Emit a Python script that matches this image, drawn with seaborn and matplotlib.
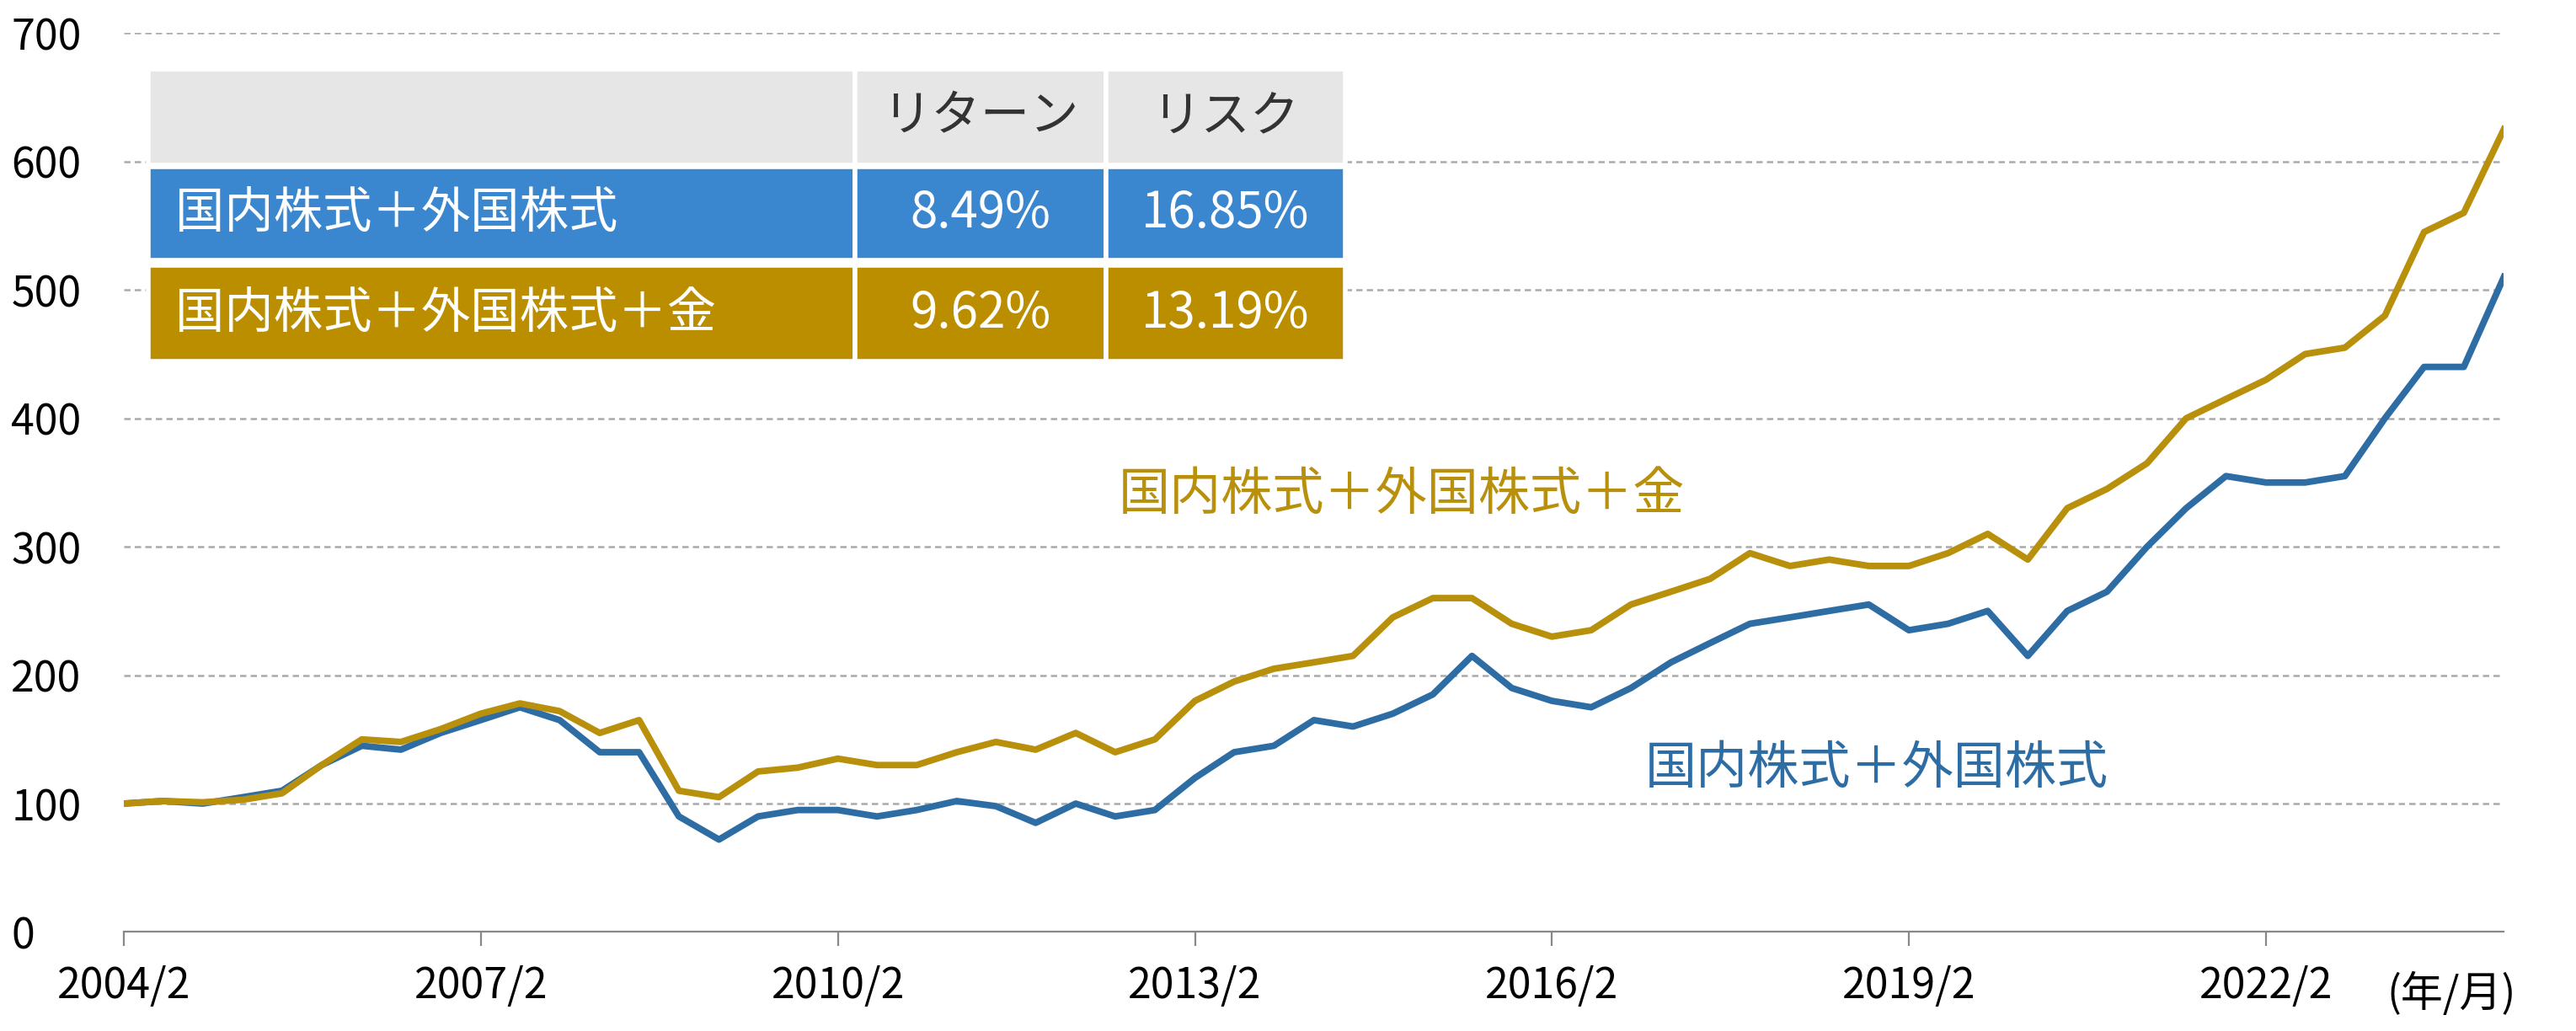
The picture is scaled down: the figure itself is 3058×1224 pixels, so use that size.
import matplotlib
matplotlib.use("Agg")
import matplotlib.pyplot as plt
import seaborn as sns
import pandas as pd
from matplotlib.patches import Rectangle

plt.rcParams["font.family"] = "Noto Sans CJK JP"

dates = pd.date_range("2004-02-01", "2024-02-01", freq="4MS")
blue_vals = [100,102,100,105,110,130,145,142,155,165,175,165,140,140,90,72,90,95,95,90,
             95,102,98,85,100,90,95,120,140,145,165,160,170,185,215,190,180,175,190,210,
             225,240,245,250,255,235,240,250,215,250,265,300,330,355,350,350,355,400,440,440,510]
gold_vals = [100,102,101,103,108,130,150,148,158,170,178,172,155,165,110,105,125,128,135,130,
             130,140,148,142,155,140,150,180,195,205,210,215,245,260,260,240,230,235,255,265,
             275,295,285,290,285,285,295,310,290,330,345,365,400,415,430,450,455,480,545,560,625]
tick_labels = ["2004/2","2007/2","2010/2","2013/2","2016/2","2019/2","2022/2"]
yticks = [0,100,200,300,400,500,600,700]
name_blue = "国内株式＋外国株式"
name_gold = "国内株式＋外国株式＋金"
table_cols = ["リターン", "リスク"]
table_blue = ["8.49%", "16.85%"]
table_gold = ["9.62%", "13.19%"]

BLUE = "#2e6da4"; GOLD = "#b8900c"
df = pd.DataFrame({"date": list(dates)*2, "value": blue_vals+gold_vals,
                   "series": [name_blue]*len(dates)+[name_gold]*len(dates)})

fig = plt.figure(figsize=(15.29, 6.12), dpi=200)
ax = fig.add_axes([0.048, 0.096, 0.924, 0.872])
sns.lineplot(data=df, x="date", y="value", hue="series",
             palette={name_blue: BLUE, name_gold: GOLD}, linewidth=2.8, ax=ax, legend=False)
ax.set_ylim(0, 700)
ax.set_xlim(pd.Timestamp("2004-02-01"), pd.Timestamp("2024-02-01"))
ax.set_yticks(yticks)
ax.yaxis.grid(True, linestyle=(0,(3,2)), color="#aaaaaa", linewidth=0.9)
ax.set_axisbelow(True)
for s in ["top","right","left"]:
    ax.spines[s].set_visible(False)
ax.spines["bottom"].set_color("#888888")
ax.tick_params(axis="y", length=0, labelsize=18)
for lbl in ax.get_yticklabels():
    lbl.set_horizontalalignment("left")
ax.yaxis.set_tick_params(pad=48)
ax.set_xticks([pd.Timestamp(t.replace("/", "-") + "-01") for t in tick_labels])
ax.set_xticklabels(tick_labels, fontsize=18)
ax.tick_params(axis="x", length=6, color="#888888", pad=8)
ax.set_xlabel(""); ax.set_ylabel("")
ax.text(1.005, -0.045, "(年/月)", transform=ax.transAxes, ha="right", va="top", fontsize=18)

ax.text(0.418, 0.47, name_gold, transform=ax.transAxes, color=GOLD, fontsize=22)
ax.text(0.639, 0.165, name_blue, transform=ax.transAxes, color=BLUE, fontsize=22)

def fx(px): return (px-75)/1442
def fy(py): return (565-py)/545
cols = [90, 518, 670, 815]
rows = [(42, 100, "#e6e6e6", ["", *table_cols], "#333333"),
        (101, 158, "#3a87cf", [name_blue, *table_blue], "white"),
        (161, 219, "#bb8e00", [name_gold, *table_gold], "white")]
for (t, b, c, texts, tc) in rows:
    for j in range(3):
        x0, x1 = cols[j], cols[j+1]
        ax.add_patch(Rectangle((fx(x0), fy(b)), fx(x1)-fx(x0), fy(t)-fy(b),
                               transform=ax.transAxes, facecolor=c, edgecolor="white",
                               linewidth=2, zorder=5, clip_on=False))
        if j == 0:
            ax.text(fx(x0+16), (fy(t)+fy(b))/2, texts[0], transform=ax.transAxes,
                    ha="left", va="center", color=tc, fontsize=21, zorder=6)
        else:
            ax.text((fx(x0)+fx(x1))/2, (fy(t)+fy(b))/2, texts[j], transform=ax.transAxes,
                    ha="center", va="center", color=tc, fontsize=21, zorder=6)

fig.savefig("out.png", dpi=200)
